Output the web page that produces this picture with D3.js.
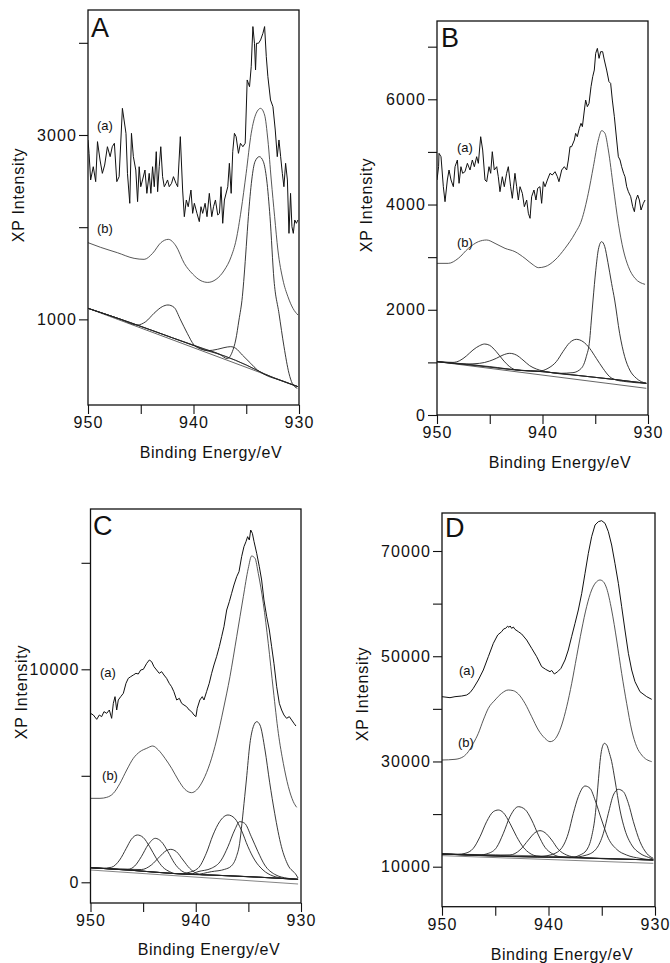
<!DOCTYPE html>
<html><head><meta charset="utf-8">
<script src="https://cdn.jsdelivr.net/npm/d3@7"></script>
<style>
body{margin:0;background:#fff}
svg{display:block}
text{font-family:"Liberation Sans",Arial,Helvetica,sans-serif;fill:#111}
</style>
</head><body>
<svg id="chart" width="670" height="963"></svg>
<script>
// ---------- shared axis data ----------
const energyTicks = [950, 945, 940, 935, 930];
const energyTickLabels = ["950", "", "940", "", "930"];
const xAxisTitle = "Binding Energy/eV";
const yAxisTitle = "XP Intensity";
const curveNames = ["(a)", "(b)"];

// ---------- panel A ----------
const A_yTicks = [1000, 2000, 3000, 4000];
const A_yTickLabels = ["1000", "", "3000", ""];
const A_raw = [[950,2946],[949.9,2801],[949.75,2512],[949.5,2656],[949.27,2494],[949.1,2928],[948.86,2729],[948.64,2584],[948.42,2674],[948.16,2873],[947.9,2765],[947.7,2873],[947.5,2910],[947.27,2494],[947.05,2548],[946.74,3289],[946.4,3018],[946.26,2584],[946.04,2259],[945.88,3018],[945.7,2765],[945.47,2620],[945.3,2277],[945.15,2656],[945.0,2439],[944.83,2512],[944.6,2620],[944.42,2367],[944.2,2584],[944.04,2367],[943.88,2656],[943.72,2439],[943.53,2819],[943.4,2385],[943.25,2656],[943.1,2873],[942.93,2548],[942.77,2439],[942.6,2476],[942.46,2512],[942.3,2439],[942.08,2476],[941.9,2548],[941.66,2476],[941.5,2439],[941.25,2982],[941.03,2403],[940.87,2114],[940.68,2295],[940.5,2222],[940.24,2403],[940.08,2150],[939.92,2259],[939.67,2150],[939.45,2060],[939.29,2222],[939.13,2150],[938.9,2259],[938.72,2114],[938.5,2367],[938.27,2114],[938.1,2222],[937.92,2295],[937.7,2132],[937.54,2150],[937.39,2439],[937.23,2042],[937.07,2295],[936.75,2439],[936.6,2693],[936.43,2367],[936.28,2819],[936.12,3018],[935.96,2982],[935.74,2801],[935.55,2910],[935.32,2873],[935.1,2910],[934.91,3597],[934.69,3524],[934.53,3741],[934.37,4176],[934.22,3995],[934.12,3705],[934.03,3995],[933.84,3995],[933.64,4031],[933.42,4103],[933.26,4176],[933.1,3850],[932.95,3633],[932.7,3380],[932.47,3307],[932.25,3054],[932.06,2765],[931.9,2946],[931.74,2765],[931.58,2584],[931.43,2439],[931.27,2693],[931.1,2512],[930.95,1933],[930.8,2367],[930.67,2006],[930.54,1933],[930.4,2078],[930.25,2042],[930.1,2078]];
const A_fit = [[950,1832],[948.8,1781],[947.21,1723],[945.63,1662],[944.68,1651],[943.88,1716],[943.09,1832],[942.39,1868],[941.66,1796],[940.87,1607],[940.08,1492],[939.29,1419],[938.65,1401],[937.86,1434],[937.07,1535],[936.43,1680],[935.96,1861],[935.48,2186],[935.01,2584],[934.53,3018],[934.06,3235],[933.64,3289],[933.26,3217],[932.95,2946],[932.63,2512],[932.31,2114],[932.0,1752],[931.52,1427],[931.05,1246],[930.57,1119],[930.1,1047]];
const A_bg1 = [[950,1120],[930.1,270]];
const A_bg2 = [[950,1120],[946,965],[942,800],[939,680],[937,600],[935,505],[933.3,410],[930.1,270]];
const A_c1 = [[950,1120],[947,1005],[945.32,939],[944.53,975],[943.74,1066],[942.96,1138],[942.42,1156],[941.85,1131],[941.22,993],[940.59,849],[939.95,722],[939.48,686],[938.7,660],[937,600],[935,505],[933.3,410],[930.1,270]];
const A_c2 = [[950,1120],[946,965],[942,800],[939.5,695],[938.69,660],[937.74,675],[937.11,693],[936.48,704],[936.0,686],[935.37,613],[934.58,523],[933.95,451],[933.32,405],[931.5,330],[930.1,270]];
const A_c3 = [[950,1120],[946,965],[942,800],[939,680],[937.5,620],[936.8,575],[936.32,649],[936.0,776],[935.69,993],[935.37,1246],[935.2,1470],[935.0,1790],[934.8,2114],[934.48,2512],[934.17,2711],[933.76,2765],[933.38,2711],[933.06,2512],[932.75,2114],[932.37,1427],[931.9,1066],[931.42,703],[930.95,415],[930.64,306],[930.16,252]];

// ---------- panel B ----------
const B_yTicks = [0, 1000, 2000, 3000, 4000, 5000, 6000, 7000];
const B_yTickLabels = ["0", "", "2000", "", "4000", "", "6000", ""];
const B_raw = [[950,4466],[949.85,4719],[949.81,4973],[949.62,4909],[949.4,4339],[949.24,4054],[949.02,4466],[948.86,4656],[948.67,4466],[948.45,4339],[948.29,4719],[948.07,4846],[947.91,4403],[947.73,4719],[947.57,4593],[947.35,4624],[947.12,4783],[946.87,4656],[946.65,4846],[946.46,4719],[946.24,4909],[946.08,4783],[945.86,5289],[945.67,5036],[945.45,4466],[945.29,4434],[945.07,4719],[944.91,4593],[944.76,5004],[944.57,4656],[944.34,4719],[944.19,4529],[944.03,4244],[943.81,4529],[943.62,4339],[943.4,4593],[943.24,4719],[943.02,4339],[942.86,4118],[942.61,4593],[942.45,4339],[942.29,4086],[942.13,4339],[941.91,4212],[941.72,3959],[941.5,4086],[941.34,3833],[941.18,3738],[941.03,4149],[940.81,4276],[940.62,4086],[940.46,4308],[940.24,4339],[940.08,4023],[939.92,4434],[939.76,4339],[939.54,4466],[939.29,4593],[939.07,4561],[938.81,4624],[938.59,4529],[938.44,4434],[938.18,4656],[937.93,4719],[937.71,4656],[937.55,4846],[937.39,5099],[937.24,5099],[936.98,5226],[936.86,5353],[936.7,5289],[936.51,5448],[936.35,5543],[936.22,5480],[936.03,5796],[935.91,5986],[935.75,5860],[935.59,5923],[935.4,6240],[935.24,6430],[935.09,6556],[934.96,6873],[934.8,6968],[934.64,6778],[934.49,6905],[934.3,6905],[934.14,6747],[933.92,6556],[933.7,6335],[933.54,6303],[933.38,5986],[933.19,5670],[932.97,5226],[932.81,4909],[932.65,4846],[932.5,4719],[932.31,4593],[932.18,4529],[932.02,4339],[931.86,4244],[931.64,4149],[931.45,3959],[931.29,3864],[931.14,4086],[930.98,4181],[930.82,4086],[930.66,3896],[930.44,4023],[930.28,4086]];
const B_fit = [[950,2882],[948.93,2882],[947.98,2977],[947.03,3167],[946.08,3294],[945.29,3326],[944.5,3262],[943.55,3167],[942.61,3104],[941.66,2977],[940.87,2851],[940.39,2800],[939.76,2819],[938.81,2946],[937.87,3167],[936.92,3452],[936.29,3706],[935.66,4212],[935.18,4719],[934.71,5226],[934.39,5404],[934.08,5353],[933.76,5036],[933.29,4339],[932.81,3642],[932.34,3136],[931.86,2819],[931.23,2597],[930.28,2483]];
const B_bg1 = [[950,1014],[930.16,507]];
const B_bg2 = [[950,1014],[947.27,969],[942.7,855],[939.95,824],[936.16,741],[933.3,678],[930.16,602]];
const B_c1 = [[950,1014],[948.48,1000],[947.85,1033],[947.22,1121],[946.59,1235],[945.96,1318],[945.48,1349],[945.01,1324],[944.38,1204],[943.74,1045],[943.11,919],[942.48,855],[940,824],[936.16,741],[933.3,678],[930.16,602]];
const B_c2 = [[950,1014],[947.22,969],[945.96,982],[945.01,1026],[944.38,1077],[943.74,1140],[943.11,1172],[942.48,1140],[941.85,1045],[941.22,938],[940.58,874],[939.95,836],[936.16,741],[933.3,678],[930.16,602]];
const B_c3 = [[950,1014],[945,920],[942,848],[940.27,836],[939.48,887],[938.69,1014],[938.06,1204],[937.42,1375],[936.79,1438],[936.16,1394],[935.53,1267],[934.9,1077],[934.27,887],[933.63,728],[933.0,665],[932.05,633],[930.16,602]];
const B_c4 = [[950,1014],[946,930],[942,850],[939.5,815],[938.37,792],[937.11,805],[936.32,887],[935.85,1109],[935.53,1425],[935.37,1805],[935.21,2185],[934.95,2750],[934.7,3150],[934.4,3294],[934.1,3200],[933.8,2900],[933.45,2500],[933.16,2185],[932.69,1553],[932.21,1109],[931.73,855],[931.1,697],[930.16,602]];

// ---------- panel C ----------
const C_yTicks = [0, 5000, 10000, 15000];
const C_yTickLabels = ["0", "", "10000", ""];
const C_raw = [[950,7933],[949.73,7855],[949.41,7651],[949.16,7855],[948.94,7776],[948.72,8011],[948.46,7933],[948.21,8089],[947.99,7698],[947.83,8402],[947.67,8715],[947.51,8089],[947.36,8559],[947.13,8715],[946.88,8872],[946.63,9341],[946.41,9576],[946.18,9654],[945.93,9732],[945.68,9811],[945.46,9779],[945.23,9967],[944.98,9998],[944.66,10280],[944.41,10437],[944.19,10358],[943.97,10124],[943.72,9967],[943.47,9811],[943.24,9889],[943.02,9732],[942.77,9576],[942.52,9341],[942.3,9185],[942.08,8950],[941.81,8559],[941.56,8637],[941.34,8402],[941.12,8325],[940.87,8246],[940.62,8089],[940.4,8011],[940.17,7855],[939.98,7776],[939.86,8168],[939.61,8559],[939.38,8715],[939.22,8559],[938.97,8950],[938.72,9341],[938.49,9811],[938.27,10202],[938.02,10593],[937.76,11063],[937.54,11532],[937.32,12002],[937.06,12784],[936.81,13175],[936.59,13567],[936.37,13958],[936.11,14349],[935.89,14584],[935.64,15288],[935.42,15758],[935.23,15992],[935.07,16227],[934.91,16071],[934.78,16540],[934.62,16384],[934.46,15992],[934.21,15445],[933.96,14819],[933.74,14193],[933.52,13254],[933.26,12471],[933.01,11845],[932.79,11063],[932.57,10280],[932.31,9185],[932.06,8402],[931.84,8089],[931.62,7855],[931.37,7698],[931.11,7776],[930.89,7620],[930.67,7464],[930.48,7338]];
const C_fit = [[950,3942],[949.1,3942],[948.46,3989],[947.83,4177],[947.2,4646],[946.56,5272],[945.93,5820],[945.3,6133],[944.66,6290],[944.09,6399],[943.55,6211],[942.92,5820],[942.29,5351],[941.66,4803],[941.03,4365],[940.4,4208],[939.92,4333],[939.29,4803],[938.65,5585],[938.02,6681],[937.39,8089],[936.75,9654],[936.11,11532],[935.48,13410],[935.01,14741],[934.69,15319],[934.37,15210],[934.06,14506],[933.58,13097],[933.11,11219],[932.63,9028],[932.15,6994],[931.68,5585],[931.2,4490],[930.73,3786],[930.41,3520]];
const C_bg1 = [[950,687],[946,560],[942.3,420],[938,330],[934,240],[930.28,139]];
const C_bg2 = [[950,577],[930.28,-80]];
const C_c1 = [[950,687],[948.97,656],[948.02,703],[947.23,1047],[946.6,1595],[946.12,2017],[945.55,2221],[945.01,2111],[944.38,1673],[943.75,1125],[943.11,703],[942.48,500],[942,405],[938,330],[934,240],[930.28,139]];
const C_c2 = [[950,687],[946.44,609],[945.8,765],[945.17,1203],[944.54,1751],[943.84,2064],[943.27,1908],[942.64,1438],[942.01,890],[941.37,546],[940.74,421],[938,330],[934,240],[930.28,139]];
const C_c3 = [[950,687],[945.17,600],[944.22,812],[943.43,1203],[942.8,1485],[942.38,1548],[941.84,1438],[941.21,1047],[940.58,656],[939.95,421],[939.31,343],[938,330],[934,240],[930.28,139]];
const C_c4 = [[950,687],[946,560],[942.3,420],[941.2,400],[940.74,452],[939.79,656],[939.0,1360],[938.36,2221],[937.73,2847],[936.94,3160],[936.3,3003],[935.67,2455],[935.04,1673],[934.4,1047],[933.61,577],[932.66,296],[931.55,186],[930.28,139]];
const C_c5 = [[950,687],[946,560],[942.3,420],[940.5,380],[939.79,499],[938.52,656],[937.57,1047],[936.94,1673],[936.3,2455],[935.83,2847],[935.35,2768],[934.72,2142],[934.09,1438],[933.45,812],[932.5,374],[931.24,186],[930.28,139]];
const C_c6 = [[950,687],[946,560],[942.3,420],[940,370],[938.52,499],[937.25,609],[936.62,765],[936.14,1203],[935.83,1829],[935.61,2768],[935.35,4020],[935.19,4803],[934.85,6524],[934.53,7307],[934.21,7541],[933.9,7385],[933.42,6211],[932.98,4700],[932.5,3239],[931.86,1673],[931.24,812],[930.45,343],[930.28,200]];

// ---------- panel D ----------
const D_yTicks = [10000, 20000, 30000, 40000, 50000, 60000, 70000];
const D_yTickLabels = ["10000", "", "30000", "", "50000", "", "70000"];
const D_raw = [[950,42314],[949.25,42124],[948.78,42314],[948.15,42441],[947.68,42631],[947.37,43075],[947.06,43898],[946.59,45482],[946.12,47382],[945.65,49916],[945.18,52450],[944.77,54034],[944.4,54667],[944.2,55200],[944.02,55301],[943.85,55700],[943.71,55491],[943.6,55750],[943.46,55301],[943.3,55550],[943.15,55111],[942.83,54667],[942.52,54224],[942.05,53083],[941.58,51500],[941.11,49916],[940.64,48016],[940.27,47509],[939.86,47065],[939.7,47300],[939.45,46622],[939.14,47065],[938.83,47699],[938.45,49283],[938.14,51183],[937.83,53717],[937.51,56251],[937.2,58785],[936.88,61952],[936.57,65753],[936.26,69554],[935.95,72722],[935.63,74939],[935.32,75573],[935.01,75763],[934.69,75256],[934.38,73672],[934.07,71138],[933.76,67654],[933.44,63853],[933.13,59419],[932.82,54984],[932.5,50550],[932.19,47382],[931.88,45165],[931.41,43264],[930.78,42314],[930.31,41807]];
const D_fit = [[950,30277],[948.78,30404],[948.0,30911],[947.53,31861],[947.06,33445],[946.59,35345],[946.12,37879],[945.65,40096],[945.02,41680],[944.4,42947],[943.77,43580],[943.3,43453],[942.83,42820],[942.21,41046],[941.58,38512],[940.95,35978],[940.33,34394],[939.86,33761],[939.55,33951],[939.14,35028],[938.76,36928],[938.29,40413],[937.82,44847],[937.36,49916],[936.89,54984],[936.42,59419],[935.95,62586],[935.48,64170],[935.16,64486],[934.85,64170],[934.54,62903],[934.07,58785],[933.6,53083],[933.13,46748],[932.66,41046],[932.19,35978],[931.72,32811],[931.25,31227],[930.31,29960]];
const D_bg1 = [[950,12414],[940,12000],[935,11600],[930.16,11273]];
const D_bg2 = [[950,12100],[930.16,10640]];
const D_c1 = [[950,12414],[948.5,12350],[947.84,12534],[947.06,13490],[946.43,15707],[945.81,18558],[945.18,20458],[944.71,20775],[944.24,20268],[943.62,18241],[942.99,15707],[942.36,13680],[941.74,12534],[941.11,12027],[940,11839],[936,11609],[932,11379],[930.16,11273]];
const D_c2 = [[950,12414],[946.5,12220],[945.65,12534],[944.87,13680],[944.24,16341],[943.62,19502],[942.83,21402],[942.21,20895],[941.58,18869],[940.95,16018],[940.33,13680],[939.7,12534],[938.92,11900],[936,11609],[932,11379],[930.16,11273]];
const D_c3 = [[950,12414],[944.5,12150],[943.62,12217],[942.68,13174],[941.89,15074],[941.27,16468],[940.8,16848],[940.33,16468],[939.7,15074],[939.08,13300],[938.29,12217],[937.36,11780],[936,11609],[932,11379],[930.16,11273]];
const D_c4 = [[950,12414],[941,11900],[939.86,12217],[938.92,13174],[938.14,16341],[937.67,20141],[937.2,23309],[936.57,25336],[936.1,24893],[935.63,22676],[935.01,18875],[934.38,15391],[933.6,13300],[932.66,12217],[931.41,11590],[930.16,11273]];
const D_c5 = [[950,12414],[940,11839],[937.8,11800],[937.04,12217],[936.42,13174],[935.95,15707],[935.63,19508],[935.45,23200],[935.3,26800],[935.16,30000],[935.0,32300],[934.75,33445],[934.5,33000],[934.3,31700],[934.07,30000],[933.76,26476],[933.29,20775],[932.82,16974],[932.19,14123],[931.41,12540],[930.63,11780],[930.16,11400]];
const D_c6 = [[950,12414],[938,11724],[936.42,12217],[935.48,13490],[934.85,16341],[934.38,20141],[933.91,23626],[933.44,24703],[932.97,24259],[932.5,22042],[932.03,18558],[931.41,14757],[930.78,12540],[930.16,11590]];

// ---------- layout (positions / styles only) ----------
const panels = [
  {name:"A", left:88, right:299, top:10, bottom:405, yDomain:[71,4356],
   yTicks:A_yTicks, yTickLabels:A_yTickLabels, raw:A_raw, fit:A_fit, comps:[A_c1,A_c2,A_c3], bgs:[A_bg1,A_bg2],
   labA:[949.15,3055], labB:[949.15,1937], yTitleX:24, yTitleY:195, xTitleX:211, xTitleY:458, letterX:91, letterY:37},
  {name:"B", left:437, right:648, top:21, bottom:415, yDomain:[0,7488],
   yTicks:B_yTicks, yTickLabels:B_yTickLabels, raw:B_raw, fit:B_fit, comps:[B_c1,B_c2,B_c3,B_c4], bgs:[B_bg1,B_bg2],
   labA:[948.1,4998], labB:[948.1,3193], yTitleX:372, yTitleY:205, xTitleX:560, xTitleY:468, letterX:441, letterY:47},
  {name:"C", left:90.5, right:301, top:509, bottom:903, yDomain:[-972,17526],
   yTicks:C_yTicks, yTickLabels:C_yTickLabels, raw:C_raw, fit:C_fit, comps:[C_c1,C_c2,C_c3,C_c4,C_c5,C_c6], bgs:[C_bg1,C_bg2],
   labA:[949.1,9638], labB:[948.9,4803], yTitleX:27, yTitleY:692, xTitleX:209, xTitleY:955, letterX:93, letterY:535},
  {name:"D", left:442, right:655, top:513, bottom:906.7, yDomain:[2398,77222],
   yTicks:D_yTicks, yTickLabels:D_yTickLabels, raw:D_raw, fit:D_fit, comps:[D_c1,D_c2,D_c3,D_c4,D_c5,D_c6], bgs:[D_bg1,D_bg2],
   labA:[948.4,46431], labB:[948.5,32748], yTitleX:368, yTitleY:694, xTitleX:562, xTitleY:960, letterX:445, letterY:537}
];

const svg = d3.select("#chart");

panels.forEach((p, pi) => {
  const g = svg.append("g");
  const x = d3.scaleLinear().domain([950, 930]).range([p.left, p.right]);
  const y = d3.scaleLinear().domain(p.yDomain).range([p.bottom, p.top]);
  const clipId = "clip" + pi;
  g.append("clipPath").attr("id", clipId).append("rect")
    .attr("x", p.left).attr("y", p.top).attr("width", p.right - p.left).attr("height", p.bottom - p.top);

  const smooth = d3.line().x(d => x(d[0])).y(d => y(d[1])).curve(d3.curveMonotoneX);
  const jagged = d3.line().x(d => x(d[0])).y(d => y(d[1]));

  const plot = g.append("g").attr("clip-path", `url(#${clipId})`);
  p.bgs.forEach((b, i) => plot.append("path").attr("d", smooth(b)).attr("fill", "none")
    .attr("stroke", i === 0 ? "#555" : "#777").attr("stroke-width", 0.9));
  p.comps.forEach(c => plot.append("path").attr("d", smooth(c)).attr("fill", "none")
    .attr("stroke", "#222").attr("stroke-width", 0.9));
  plot.append("path").attr("d", smooth(p.fit)).attr("fill", "none").attr("stroke", "#444").attr("stroke-width", 0.9);
  plot.append("path").attr("d", jagged(p.raw)).attr("fill", "none").attr("stroke", "#111").attr("stroke-width", 1);

  // x axis
  const xLab = new Map(energyTicks.map((t, i) => [t, energyTickLabels[i]]));
  const xa = g.append("g").attr("transform", `translate(0,${p.bottom})`)
    .call(d3.axisBottom(x).tickValues(energyTicks).tickFormat(d => xLab.get(d)).tickSize(9).tickPadding(3));
  // y axis
  const yLab = new Map(p.yTicks.map((t, i) => [t, p.yTickLabels[i]]));
  const ya = g.append("g").attr("transform", `translate(${p.left},0)`)
    .call(d3.axisLeft(y).tickValues(p.yTicks).tickFormat(d => yLab.get(d)).tickSize(9).tickPadding(2));
  [xa, ya].forEach(a => {
    a.select(".domain").remove();
    a.selectAll(".tick line").attr("stroke", "#111").attr("stroke-width", 1.1);
    a.selectAll(".tick text").attr("font-size", 16).style("letter-spacing", "1.1px")
      .style("font-family", '"Liberation Sans", Arial, sans-serif').attr("fill", "#111");
  });

  // frame
  g.append("rect").attr("x", p.left).attr("y", p.top)
    .attr("width", p.right - p.left).attr("height", p.bottom - p.top)
    .attr("fill", "none").attr("stroke", "#111").attr("stroke-width", 1.3);

  // titles
  g.append("text").attr("x", p.xTitleX).attr("y", p.xTitleY).attr("text-anchor", "middle")
    .attr("font-size", 16).style("letter-spacing", "0.6px").text(xAxisTitle);
  g.append("text").attr("transform", `translate(${p.yTitleX},${p.yTitleY}) rotate(-90)`)
    .attr("text-anchor", "middle").attr("font-size", 16).style("letter-spacing", "0.8px").text(yAxisTitle);
  g.append("text").attr("x", p.letterX).attr("y", p.letterY).attr("font-size", 27).text(p.name);

  // curve labels
  g.append("text").attr("x", x(p.labA[0])).attr("y", y(p.labA[1])).attr("font-size", 13).text(curveNames[0]);
  g.append("text").attr("x", x(p.labB[0])).attr("y", y(p.labB[1])).attr("font-size", 13).text(curveNames[1]);
});
</script>
</body></html>
